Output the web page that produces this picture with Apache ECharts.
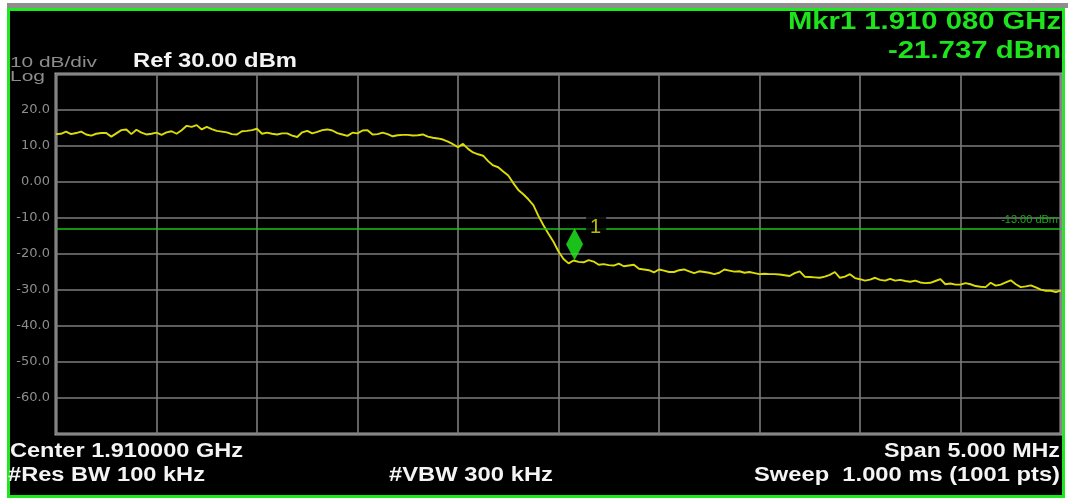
<!DOCTYPE html>
<html>
<head>
<meta charset="utf-8">
<title>Spectrum trace</title>
<script src="https://cdn.jsdelivr.net/npm/echarts@6/dist/echarts.min.js"></script>
<style>
  html, body { margin: 0; padding: 0; background: #ffffff; }
  #chart { width: 1068px; height: 499px; }
</style>
</head>
<body>
<div id="chart"></div>
<script>
// ---- Sweep data (frequency in MHz, level in dBm) ----
const freqStartMHz = 1907.5;
const freqStopMHz = 1912.5;
const freqStepMHz = 0.025;
const traceLevels = [
  13.3, 13.4, 14.0, 13.3, 13.6, 14.0, 13.2, 12.9, 13.4, 13.6,
  13.6, 12.6, 13.5, 14.4, 14.6, 13.3, 14.5, 13.7, 13.2, 13.4,
  13.7, 13.1, 13.8, 14.1, 13.4, 14.4, 15.6, 15.3, 15.8, 14.6,
  15.3, 14.7, 14.2, 14.0, 13.8, 13.3, 13.2, 14.1, 14.2, 14.4,
  14.8, 13.4, 13.7, 13.4, 13.2, 13.5, 13.5, 12.9, 12.5, 13.8,
  14.2, 13.5, 13.9, 14.4, 14.6, 14.3, 13.6, 13.2, 12.8, 13.7,
  13.5, 14.3, 14.4, 13.2, 13.3, 13.7, 13.3, 12.7, 13.0, 13.1,
  13.1, 12.9, 13.0, 13.2, 12.6, 12.3, 12.1, 11.8, 11.2, 10.5,
  9.7, 10.6, 9.2, 8.2, 7.7, 7.3, 5.8, 4.6, 4.1, 2.9,
  1.8, -0.3, -2.2, -3.4, -4.8, -6.4, -9.4, -12.0, -14.4, -16.6,
  -19.3, -21.4, -22.6, -21.8, -22.2, -22.3, -21.7, -22.1, -23.0, -22.8,
  -23.1, -23.2, -22.7, -23.4, -23.2, -23.0, -24.1, -24.3, -24.5, -25.1,
  -24.3, -24.6, -25.0, -25.0, -24.5, -24.3, -24.8, -25.3, -24.8, -25.0,
  -25.2, -25.6, -25.2, -24.3, -24.6, -24.9, -24.8, -25.2, -25.0, -25.3,
  -25.6, -25.5, -25.6, -25.6, -25.7, -25.9, -26.1, -25.3, -24.8, -26.3,
  -26.4, -26.5, -26.6, -26.3, -25.8, -25.0, -26.6, -26.3, -25.6, -26.7,
  -27.0, -27.4, -27.1, -26.6, -27.2, -27.4, -26.9, -27.4, -27.2, -27.5,
  -27.7, -27.4, -27.9, -28.1, -28.0, -27.5, -27.0, -28.4, -28.2, -28.5,
  -28.5, -28.1, -28.4, -28.9, -29.1, -29.2, -28.0, -28.8, -28.5, -27.9,
  -27.3, -28.4, -29.2, -29.0, -28.7, -29.3, -29.9, -30.2, -30.2, -30.6, -30.1
];

// Marker 1 and display line
const markerFreqMHz = 1910.080;
const markerLevel = -21.737;
const markerName = '1';
const limitLevel = -13;
const limitLabel = '-13.00 dBm';

// Amplitude scale: reference 30 dBm, 10 dB/div
const levelTicks = [30, 20, 10, 0, -10, -20, -30, -40, -50, -60, -70];
const levelTickLabels = ['', '20.0', '10.0', '0.00', '-10.0', '-20.0', '-30.0', '-40.0', '-50.0', '-60.0', ''];

// Annotation texts
const scaleText = '10 dB/div';
const scaleTypeText = 'Log';
const refText = 'Ref 30.00 dBm';
const markerFreqText = 'Mkr1 1.910 080 GHz';
const markerLevelText = '-21.737 dBm';
const centerText = 'Center 1.910000 GHz';
const rbwText = '#Res BW 100 kHz';
const vbwText = '#VBW 300 kHz';
const spanText = 'Span 5.000 MHz';
const sweepText = 'Sweep  1.000 ms (1001 pts)';

// ---- Styling ----
const GRAY_TEXT = '#8d8d8d';
const WHITE_TEXT = '#f4f4f4';
const GREEN_TEXT = '#1ee41e';
const FONT = '"Liberation Sans", Arial, sans-serif';

const traceData = traceLevels.map((v, i) => [freqStartMHz + i * freqStepMHz, v]);

// Horizontal stretch so each annotation spans its box width
const measureCtx = document.createElement('canvas').getContext('2d');
function stretch(text, size, weight, width) {
  measureCtx.font = weight + ' ' + size + 'px ' + FONT;
  return width / measureCtx.measureText(text).width;
}
function annot(text, x, y, width, size, weight, color, align) {
  return {
    type: 'text',
    x: x, y: y,
    z: 100,
    scaleX: stretch(text, size, weight, width),
    silent: true,
    style: {
      text: text,
      fill: color,
      fontSize: size,
      fontWeight: weight,
      fontFamily: FONT,
      align: align,
      verticalAlign: 'middle'
    }
  };
}

const chart = echarts.init(document.getElementById('chart'), null, { renderer: 'canvas' });

chart.setOption({
  animation: false,
  backgroundColor: '#ffffff',
  grid: {
    left: 56, right: 7, top: 74, bottom: 65,
    show: true,
    borderColor: '#a2a2a2',
    borderWidth: 3,
    backgroundColor: 'transparent'
  },
  xAxis: {
    type: 'value',
    min: freqStartMHz,
    max: freqStopMHz,
    interval: 0.5,
    axisLine: { show: false },
    axisTick: { show: false },
    axisLabel: { show: false },
    splitLine: { show: true, lineStyle: { color: '#7c7c7c', width: 1.6 } }
  },
  yAxis: {
    type: 'value',
    min: -70,
    max: 30,
    interval: 10,
    axisLine: { show: false },
    axisTick: { show: false },
    axisLabel: {
      color: GRAY_TEXT,
      fontFamily: '"DejaVu Sans", sans-serif',
      fontSize: 13,
      margin: 6,
      formatter: v => levelTickLabels[levelTicks.indexOf(v)] || ''
    },
    splitLine: { show: true, lineStyle: { color: '#7c7c7c', width: 1.6 } }
  },
  graphic: [
    // white margins, grey band and the green-framed black display
    { type: 'rect', z: -100, silent: true, shape: { x: 7, y: 3, width: 1061, height: 5 }, style: { fill: '#8e8e8e' } },
    { type: 'rect', z: -99, silent: true, shape: { x: 8.5, y: 9.5, width: 1055, height: 487 },
      style: { fill: '#000000', stroke: '#1ee81e', lineWidth: 3 } },
    annot(scaleText, 10, 63, 87, 14, 'normal', GRAY_TEXT, 'left'),
    annot(scaleTypeText, 10, 77, 35, 14, 'normal', GRAY_TEXT, 'left'),
    annot(refText, 133, 61, 164, 20, 'bold', WHITE_TEXT, 'left'),
    annot(markerFreqText, 1061, 22.5, 273, 24, 'bold', GREEN_TEXT, 'right'),
    annot(markerLevelText, 1061, 51, 173, 24, 'bold', GREEN_TEXT, 'right'),
    annot(centerText, 10, 451, 233, 20, 'bold', WHITE_TEXT, 'left'),
    annot(rbwText, 8, 475, 197, 20, 'bold', WHITE_TEXT, 'left'),
    annot(vbwText, 389, 475, 164, 20, 'bold', WHITE_TEXT, 'left'),
    annot(spanText, 1060, 451, 176, 20, 'bold', WHITE_TEXT, 'right'),
    annot(sweepText, 1060, 475, 306, 20, 'bold', WHITE_TEXT, 'right')
  ],
  series: [
    {
      name: 'Trace 1',
      type: 'line',
      data: traceData,
      showSymbol: false,
      z: 3,
      lineStyle: { color: '#dcdc06', width: 1.9 },
      markLine: {
        silent: true,
        symbol: ['none', 'none'],
        lineStyle: { color: '#19c419', width: 1.5, type: 'solid' },
        label: {
          show: true,
          position: 'insideEndTop',
          distance: 3,
          formatter: limitLabel,
          color: '#1aa81a',
          fontSize: 11,
          fontFamily: FONT
        },
        data: [{ yAxis: limitLevel }]
      }
    },
    {
      name: 'Marker 1',
      type: 'scatter',
      z: 5,
      data: [[markerFreqMHz, markerLevel]],
      symbol: 'diamond',
      symbolSize: [17, 32],
      symbolOffset: [0, '-50%'],
      itemStyle: { color: '#22f022' },
      label: {
        show: true,
        position: 'right',
        distance: 3,
        offset: [0, -17],
        formatter: markerName,
        color: '#e8e810',
        fontSize: 20,
        fontFamily: FONT,
        backgroundColor: '#000000',
        padding: [2, 5, 2, 4]
      }
    }
  ]
});
</script>
</body>
</html>
